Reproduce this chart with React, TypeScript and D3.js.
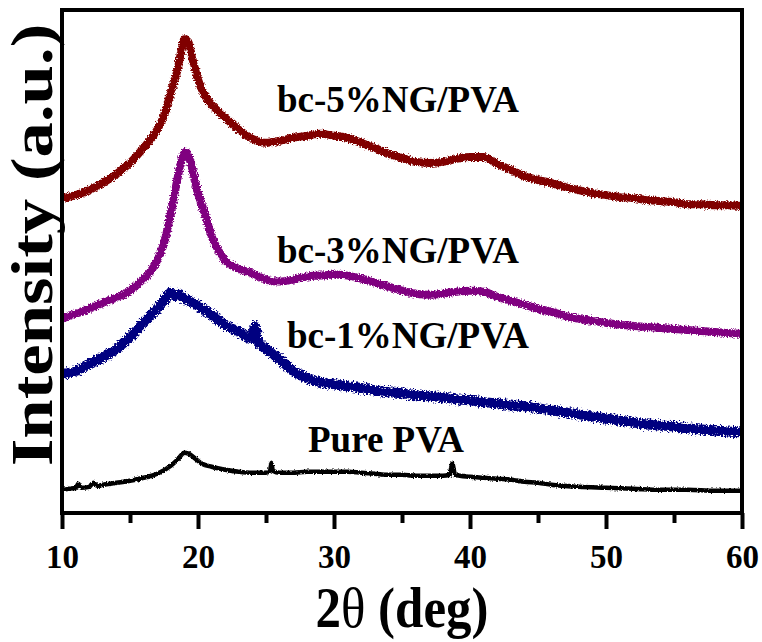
import React, { useEffect, useRef } from 'react';
import * as d3 from 'd3';

// XRD patterns, [2θ (deg), intensity (a.u.)], traces already stacked with offsets
const purePva: [number, number][] = [
  [10, 46], [10.5, 48], [11, 50], [11.2, 58], [11.4, 50], [12, 52], [12.3, 60], [12.6, 54],
  [13, 56], [14, 60], [15, 64], [16, 70], [17, 78], [18, 94], [18.5, 106], [19, 120],
  [19.3, 118], [19.8, 108], [20.3, 98], [21, 92], [22, 86], [23, 82], [24, 80], [25, 80],
  [25.3, 84], [25.4, 100], [25.5, 84], [26, 80], [27, 80], [28, 82], [29, 82], [30, 82],
  [31, 82], [32, 80], [33, 78], [34, 76], [35, 76], [36, 74], [37, 74], [38, 74],
  [38.5, 76], [38.7, 98], [38.9, 76], [40, 72], [41, 70], [42, 68], [43, 66], [44, 62],
  [45, 60], [46, 56], [48, 52], [50, 50], [52, 48], [54, 46], [56, 46], [58, 44], [60, 44],
];

const ng1: [number, number][] = [
  [10, 276], [11, 282], [12, 296], [13, 310], [14, 326], [15, 350], [16, 378], [17, 406],
  [17.5, 422], [18, 438], [18.3, 432], [18.6, 434], [19, 426], [19.5, 420], [20, 412],
  [21, 394], [22, 374], [23, 360], [24, 346], [24.2, 372], [24.4, 342], [25, 326], [26, 306],
  [27, 282], [28, 268], [29, 260], [30, 256], [31, 252], [32, 248], [33, 244], [34, 240],
  [35, 238], [36, 234], [37, 232], [38, 230], [39, 226], [40, 224], [41, 220], [42, 218],
  [43, 214], [44, 212], [45, 208], [46, 204], [47, 200], [48, 196], [49, 192], [50, 188],
  [51, 184], [52, 180], [53, 176], [54, 174], [55, 172], [56, 168], [57, 166], [58, 164],
  [59, 162], [60, 160],
];

const ng3: [number, number][] = [
  [10, 386], [11, 396], [12, 406], [13, 418], [14, 428], [15, 442], [16, 466], [16.5, 480],
  [17, 502], [17.5, 536], [18, 596], [18.5, 666], [18.8, 702], [19.1, 718], [19.4, 702],
  [19.7, 670], [20, 636], [20.5, 596], [21, 550], [21.5, 522], [22, 502], [23, 486],
  [24, 476], [25, 464], [26, 460], [27, 464], [28, 470], [29, 472], [30, 474], [31, 472],
  [32, 466], [33, 458], [34, 450], [35, 442], [36, 436], [37, 434], [38, 436], [39, 440],
  [40, 442], [41, 440], [42, 430], [43, 422], [44, 414], [45, 406], [46, 400], [47, 392],
  [48, 386], [49, 382], [50, 378], [51, 374], [52, 372], [53, 370], [54, 368], [55, 366],
  [56, 364], [57, 362], [58, 360], [59, 358], [60, 356],
];

const ng5: [number, number][] = [
  [10, 626], [11, 632], [12, 642], [13, 656], [14, 674], [15, 696], [16, 726], [17, 762],
  [17.5, 790], [18, 836], [18.5, 882], [18.8, 922], [19, 942], [19.3, 936], [19.6, 902],
  [20, 862], [20.5, 830], [21, 812], [22, 786], [23, 762], [24, 744], [25, 736], [26, 740],
  [27, 746], [28, 750], [29, 754], [30, 750], [31, 746], [32, 736], [33, 726], [34, 714],
  [35, 706], [36, 698], [37, 696], [38, 698], [39, 704], [40, 708], [41, 708], [42, 694],
  [43, 682], [44, 670], [45, 662], [46, 656], [47, 648], [48, 642], [49, 636], [50, 632],
  [51, 628], [52, 626], [53, 622], [54, 620], [55, 618], [56, 614], [57, 614], [58, 612],
  [59, 612], [60, 610],
];

const seriesNames = ['Pure PVA', 'bc-1%NG/PVA', 'bc-3%NG/PVA', 'bc-5%NG/PVA'];
const seriesData = [purePva, ng1, ng3, ng5];
const seriesColors = ['#000000', '#000080', '#800080', '#800000'];

const majorTicks = [10, 20, 30, 40, 50, 60];
const minorTicks = [15, 25, 35, 45, 55];

const App = () => {
  const ref = useRef<SVGSVGElement>(null);

  useEffect(() => {
    const svg = d3.select(ref.current);
    svg.selectAll('*').remove();

    const left = 62;
    const right = 742;
    const top = 10;
    const bottom = 513;
    const font = '"Liberation Serif", "Times New Roman", serif';

    const x = d3.scaleLinear().domain([10, 60]).range([left, right]);
    const y = d3.scaleLinear().domain([0, 1000]).range([bottom, top]);

    // jagged edge for the noisy diffraction traces
    const defs = svg.append('defs');
    const addRough = (id: string, freq: number, amount: number) => {
      const f = defs.append('filter').attr('id', id)
        .attr('x', '-5%').attr('y', '-20%').attr('width', '110%').attr('height', '140%');
      f.append('feTurbulence').attr('type', 'fractalNoise').attr('baseFrequency', freq)
        .attr('numOctaves', 2).attr('seed', 7).attr('result', 'noise');
      f.append('feDisplacementMap').attr('in', 'SourceGraphic').attr('in2', 'noise')
        .attr('scale', amount).attr('xChannelSelector', 'R').attr('yChannelSelector', 'G');
    };
    addRough('rough-thin', 0.7, 3);
    addRough('rough', 0.7, 5);
    addRough('rough-heavy', 0.6, 8);

    const line = d3.line<[number, number]>()
      .x((d) => x(d[0]))
      .y((d) => y(d[1]))
      .curve(d3.curveMonotoneX);

    const widths = [4.5, 10, 8, 8];
    const filters = ['rough-thin', 'rough-heavy', 'rough', 'rough'];
    const traces = svg.append('g').attr('class', 'traces');
    seriesData.forEach((data, i) => {
      traces.append('path')
        .datum(data)
        .attr('d', line)
        .attr('fill', 'none')
        .attr('stroke', seriesColors[i])
        .attr('stroke-width', widths[i])
        .attr('stroke-linejoin', 'round')
        .attr('filter', `url(#${filters[i]})`);
    });

    // frame
    svg.append('rect')
      .attr('x', left).attr('y', top)
      .attr('width', right - left).attr('height', bottom - top)
      .attr('fill', 'none').attr('stroke', '#000').attr('stroke-width', 4);

    // bottom axis, minor then major ticks
    svg.append('g')
      .attr('transform', `translate(0,${bottom})`)
      .call(d3.axisBottom(x).tickValues(minorTicks).tickSize(10).tickFormat(() => ''))
      .call((g) => g.select('.domain').remove())
      .call((g) => g.selectAll('line').attr('stroke-width', 4));

    const xAxis = svg.append('g')
      .attr('transform', `translate(0,${bottom})`)
      .call(d3.axisBottom(x).tickValues(majorTicks).tickSize(16).tickPadding(16)
        .tickFormat(d3.format('d')));
    xAxis.select('.domain').remove();
    xAxis.selectAll('line').attr('stroke-width', 4);
    xAxis.selectAll('text')
      .attr('font-family', font)
      .attr('font-weight', 'bold')
      .attr('font-size', 33)
      .attr('fill', '#000');

    // axis titles
    const xTitle = svg.append('text')
      .attr('transform', `translate(${(left + right) / 2},627) scale(1,1.12)`)
      .attr('text-anchor', 'middle')
      .attr('font-family', font)
      .attr('font-weight', 'bold')
      .attr('font-size', 51)
      .attr('fill', '#000');
    xTitle.append('tspan').text('2');
    xTitle.append('tspan').attr('font-weight', 'normal').text('θ');
    xTitle.append('tspan').text(' (deg)');

    svg.append('text')
      .attr('transform', 'translate(52,245) rotate(-90) scale(1.18,1)')
      .attr('text-anchor', 'middle')
      .attr('font-family', font)
      .attr('font-weight', 'bold')
      .attr('font-size', 60)
      .attr('fill', '#000')
      .text('Intensity (a.u.)');

    // trace labels
    const labelPos: [number, number][] = [[308, 452], [287, 348], [277, 263], [277, 112]];
    seriesNames.forEach((name, i) => {
      svg.append('text')
        .attr('x', labelPos[i][0])
        .attr('y', labelPos[i][1])
        .attr('font-family', font)
        .attr('font-weight', 'bold')
        .attr('font-size', 37)
        .attr('fill', '#000')
        .text(name);
    });
  }, []);

  return (
    <svg
      ref={ref}
      width={762}
      height={642}
      style={{ position: 'absolute', left: 0, top: 0, background: '#fff' }}
    />
  );
};

export default App;
